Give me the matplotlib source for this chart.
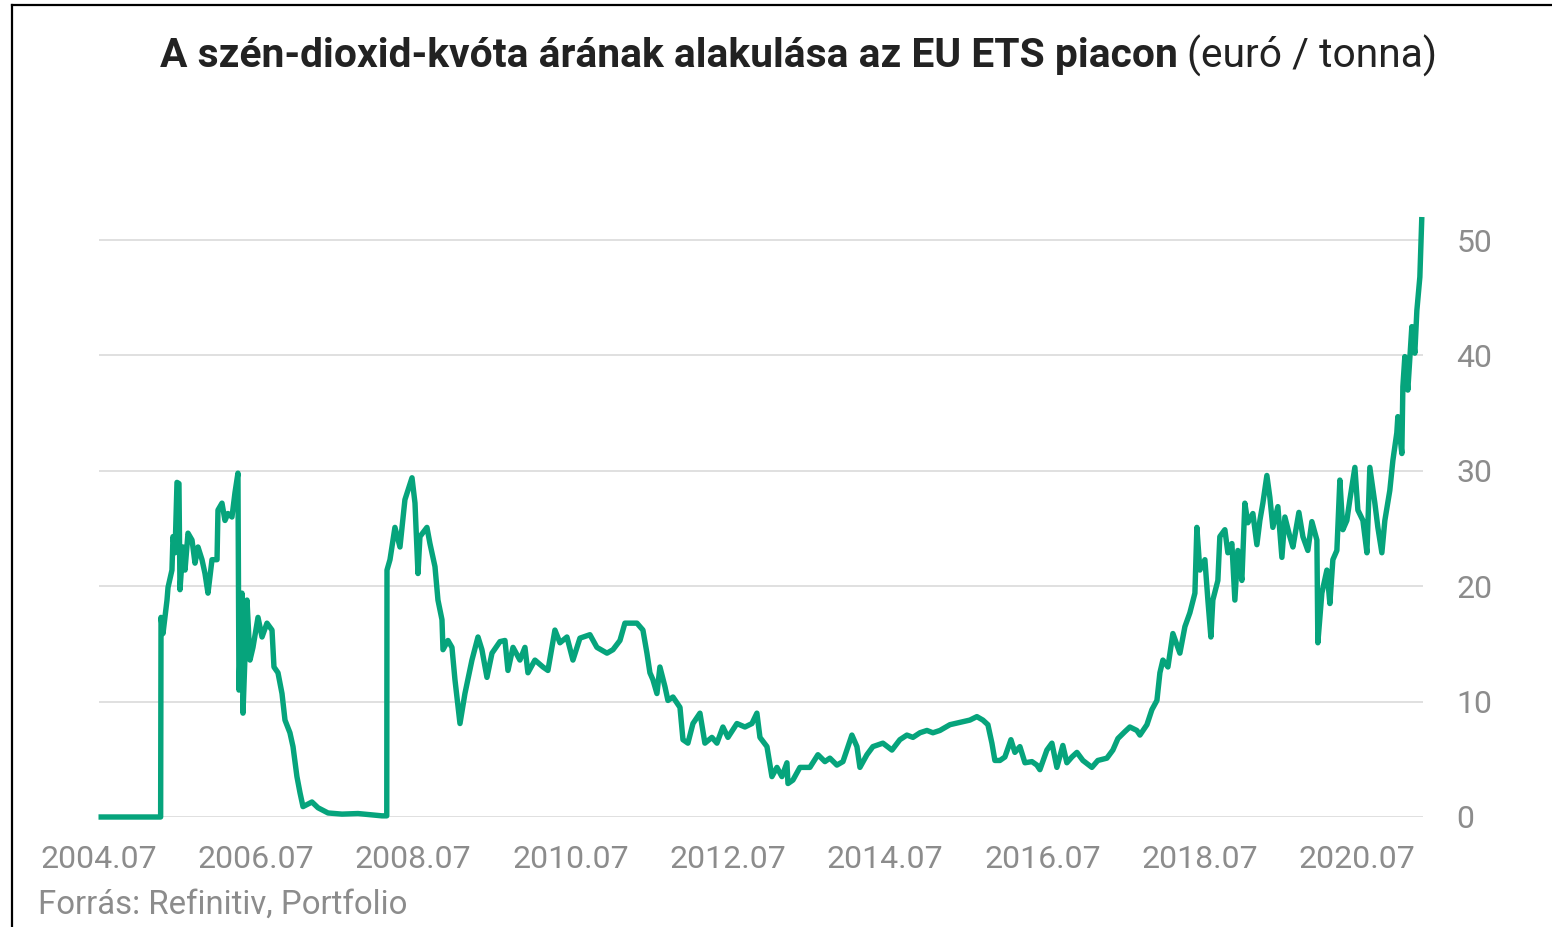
import matplotlib
matplotlib.use("Agg")
import matplotlib.pyplot as plt
from matplotlib.lines import Line2D

plt.rcParams['font.family'] = ['Roboto', 'DejaVu Sans']

# EU ETS kvóta ár (euró / tonna), évtized tört formában
years = [
    2004.50, 2005.29, 2005.295, 2005.32, 2005.371, 2005.384, 2005.434, 2005.447, 2005.473, 2005.498,
    2005.523, 2005.536, 2005.574, 2005.600, 2005.638, 2005.689, 2005.727, 2005.765, 2005.816, 2005.854,
    2005.892, 2005.943, 2006.007, 2006.019, 2006.070, 2006.108, 2006.146, 2006.197, 2006.235, 2006.273,
    2006.286, 2006.324, 2006.337, 2006.388, 2006.426, 2006.464, 2006.528, 2006.579, 2006.642, 2006.706,
    2006.731, 2006.782, 2006.833, 2006.871, 2006.934, 2006.973, 2007.023, 2007.062, 2007.100, 2007.214,
    2007.291, 2007.418, 2007.596, 2007.799, 2008.104, 2008.165, 2008.168, 2008.206, 2008.269, 2008.333,
    2008.396, 2008.486, 2008.524, 2008.562, 2008.587, 2008.676, 2008.714, 2008.778, 2008.816, 2008.867,
    2008.880, 2008.943, 2008.994, 2009.032, 2009.096, 2009.159, 2009.248, 2009.325, 2009.375, 2009.439,
    2009.503, 2009.604, 2009.668, 2009.706, 2009.770, 2009.858, 2009.922, 2009.960, 2010.049, 2010.151,
    2010.214, 2010.303, 2010.367, 2010.456, 2010.532, 2010.621, 2010.748, 2010.837, 2010.965, 2011.041,
    2011.130, 2011.193, 2011.346, 2011.422, 2011.473, 2011.511, 2011.549, 2011.600, 2011.638, 2011.702,
    2011.740, 2011.804, 2011.893, 2011.931, 2011.994, 2012.058, 2012.147, 2012.210, 2012.299, 2012.363,
    2012.439, 2012.503, 2012.617, 2012.719, 2012.808, 2012.871, 2012.910, 2012.999, 2013.062, 2013.126,
    2013.189, 2013.253, 2013.266, 2013.329, 2013.418, 2013.545, 2013.647, 2013.736, 2013.799, 2013.888,
    2013.965, 2014.079, 2014.143, 2014.181, 2014.270, 2014.346, 2014.473, 2014.588, 2014.689, 2014.778,
    2014.855, 2014.944, 2015.033, 2015.109, 2015.198, 2015.325, 2015.452, 2015.579, 2015.668, 2015.744,
    2015.808, 2015.859, 2015.897, 2015.961, 2016.024, 2016.101, 2016.151, 2016.215, 2016.279, 2016.368,
    2016.431, 2016.469, 2016.558, 2016.622, 2016.685, 2016.761, 2016.812, 2016.876, 2016.940, 2017.016,
    2017.130, 2017.206, 2017.321, 2017.397, 2017.461, 2017.550, 2017.613, 2017.702, 2017.741, 2017.830,
    2017.893, 2017.957, 2017.995, 2018.033, 2018.097, 2018.160, 2018.249, 2018.313, 2018.376, 2018.440,
    2018.465, 2018.503, 2018.567, 2018.605, 2018.643, 2018.668, 2018.732, 2018.757, 2018.821, 2018.859,
    2018.910, 2018.948, 2018.986, 2019.037, 2019.075, 2019.113, 2019.177, 2019.228, 2019.266, 2019.304,
    2019.355, 2019.393, 2019.431, 2019.495, 2019.546, 2019.584, 2019.647, 2019.686, 2019.762, 2019.813,
    2019.876, 2019.927, 2019.991, 2020.003, 2020.054, 2020.118, 2020.156, 2020.194, 2020.245, 2020.283,
    2020.321, 2020.372, 2020.410, 2020.474, 2020.512, 2020.576, 2020.627, 2020.664, 2020.728, 2020.766,
    2020.817, 2020.855, 2020.918, 2020.957, 2021.007, 2021.020, 2021.071, 2021.084, 2021.109, 2021.147,
    2021.198, 2021.236, 2021.262, 2021.300, 2021.325,
]
prices = [
    0, 0, 17.3, 15.9, 18.8, 19.9, 21.4, 24.3, 22.9, 29.0,
    28.9, 19.7, 23.4, 21.4, 24.6, 24.0, 22.0, 23.4, 22.3, 21.1,
    19.4, 22.3, 22.3, 26.6, 27.2, 25.7, 26.3, 26.0, 28.1, 29.8,
    11.0, 19.4, 9.0, 18.8, 13.6, 14.7, 17.3, 15.6, 16.8, 16.2,
    13.0, 12.5, 10.7, 8.4, 7.3, 6.1, 3.5, 2.1, 0.9, 1.3,
    0.8, 0.35, 0.25, 0.3, 0.1, 0.1, 21.4, 22.3, 25.1, 23.4,
    27.5, 29.4, 27.2, 21.1, 24.3, 25.1, 23.7, 21.7, 18.8, 17.1,
    14.5, 15.3, 14.7, 11.9, 8.1, 10.7, 13.6, 15.6, 14.5, 12.1,
    14.2, 15.2, 15.3, 12.7, 14.7, 13.6, 14.7, 12.5, 13.6, 13.0,
    12.7, 16.2, 15.1, 15.6, 13.6, 15.5, 15.8, 14.7, 14.2, 14.5,
    15.3, 16.8, 16.8, 16.2, 14.2, 12.5, 11.9, 10.7, 13.0, 11.3,
    10.1, 10.4, 9.5, 6.7, 6.4, 8.1, 9.0, 6.4, 6.9, 6.4,
    7.8, 6.9, 8.1, 7.8, 8.1, 9.0, 6.9, 6.1, 3.5, 4.3,
    3.5, 4.7, 2.9, 3.2, 4.3, 4.3, 5.4, 4.8, 5.1, 4.5,
    4.8, 7.1, 6.1, 4.3, 5.4, 6.1, 6.4, 5.8, 6.7, 7.1,
    6.9, 7.3, 7.5, 7.3, 7.5, 8.0, 8.2, 8.4, 8.7, 8.4,
    8.0, 6.4, 4.9, 4.9, 5.2, 6.7, 5.6, 6.1, 4.7, 4.8,
    4.5, 4.1, 5.8, 6.4, 4.3, 6.2, 4.7, 5.2, 5.6, 4.9,
    4.3, 4.9, 5.1, 5.8, 6.8, 7.4, 7.8, 7.5, 7.1, 8.0,
    9.3, 10.1, 12.5, 13.6, 13.0, 15.9, 14.2, 16.5, 17.7, 19.4,
    25.1, 21.4, 22.3, 18.8, 15.6, 18.8, 20.5, 24.3, 24.9, 22.9,
    23.7, 18.8, 23.1, 20.5, 27.2, 25.5, 26.3, 23.6, 25.7, 27.2,
    29.6, 27.7, 25.1, 26.9, 22.5, 26.0, 24.3, 23.4, 26.4, 24.3,
    23.1, 25.6, 24.0, 15.1, 19.4, 21.4, 18.5, 22.3, 23.1, 29.2,
    24.9, 25.7, 27.5, 30.3, 26.6, 25.7, 22.9, 30.3, 27.2, 25.1,
    22.9, 25.7, 28.3, 30.9, 33.3, 34.7, 31.5, 37.3, 39.9, 37.0,
    42.5, 40.2, 43.9, 46.8, 52.0,
]

xtick_pos = [2004.5, 2006.5, 2008.5, 2010.5, 2012.5, 2014.5, 2016.5, 2018.5, 2020.5]
xtick_labels = ['2004.07', '2006.07', '2008.07', '2010.07', '2012.07',
                '2014.07', '2016.07', '2018.07', '2020.07']
ytick_pos = [0, 10, 20, 30, 40, 50]

W, H = 1552, 927
fig = plt.figure(figsize=(W / 100, H / 100), dpi=100)
ax = fig.add_axes([98.5 / W, 1 - 817 / H, (1423 - 98.5) / W, 600 / H])

ax.plot(years, prices, color='#06a47c', lw=3.9, solid_joinstyle='round',
        solid_capstyle='butt', clip_on=False, zorder=3)

ax.set_xlim(2004.5, 2021.34)
ax.set_ylim(0, 52)
for s in ax.spines.values():
    s.set_visible(False)
ax.set_yticks(ytick_pos)
ax.yaxis.tick_right()
ax.grid(axis='y', color='#e0e0e0', lw=1.4)
ax.set_axisbelow(True)
ax.set_xticks(xtick_pos, xtick_labels)
ax.tick_params(axis='both', length=0, labelsize=23, labelcolor='#8c8c8c')
ax.tick_params(axis='x', pad=20)
ax.tick_params(axis='y', pad=24)

# cím: félkövér rész + normál rész
r = fig.canvas.get_renderer()
t1 = fig.text(160 / W, 1 - 56 / H, 'A szén-dioxid-kvóta árának alakulása az EU ETS piacon',
              fontsize=29.3, fontweight='bold', color='#222222', va='center', ha='left')
bb = t1.get_window_extent(renderer=r)
fig.text((bb.x1 + 9) / W, 1 - 56 / H, '(euró / tonna)', fontsize=29.3,
         color='#222222', va='center', ha='left')

fig.text(38 / W, 1 - 905 / H, 'Forrás: Refinitiv, Portfolio', fontsize=23.7,
         color='#8c8c8c', va='center', ha='left')

# keret
fig.add_artist(Line2D([12 / W, 12 / W], [0, 1 - 5 / H], color='black', lw=1.6,
                      transform=fig.transFigure))
fig.add_artist(Line2D([12 / W, 1], [1 - 5 / H, 1 - 5 / H], color='black', lw=1.6,
                      transform=fig.transFigure))

fig.savefig('out.png', dpi=100)
